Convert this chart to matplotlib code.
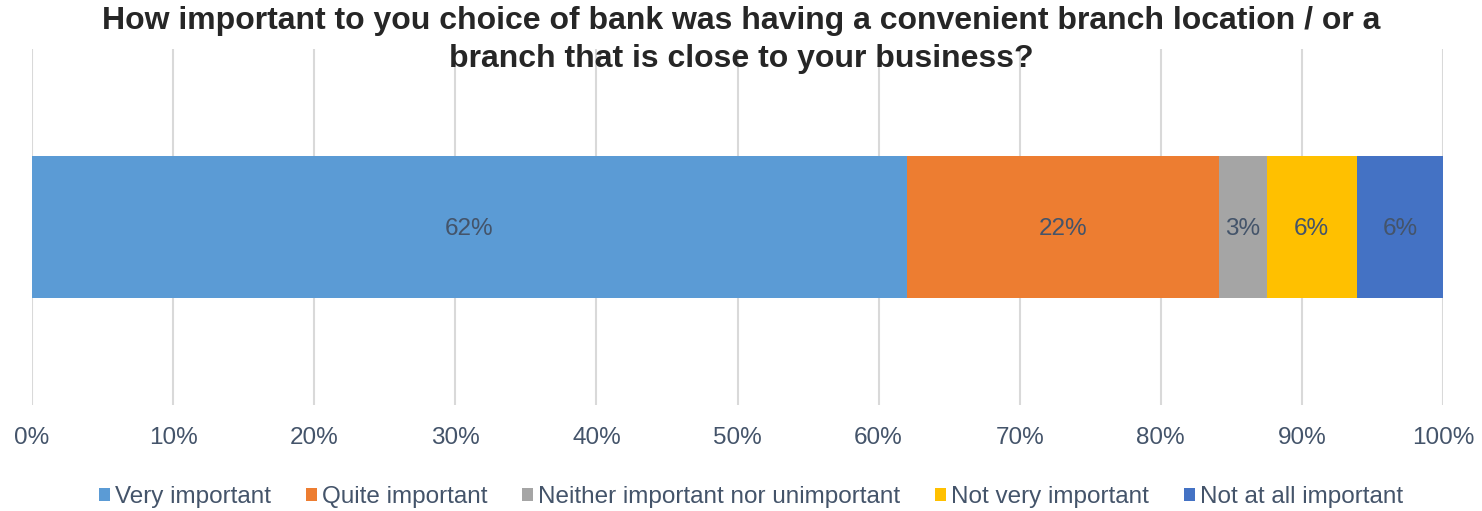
import matplotlib.pyplot as plt
from matplotlib.ticker import FuncFormatter

plt.rcParams['font.family'] = ['Liberation Sans', 'DejaVu Sans']

# response shares (%) for the single question
categories = ['Very important', 'Quite important', 'Neither important nor unimportant',
              'Not very important', 'Not at all important']
shares = [62.0, 22.1, 3.4, 6.4, 6.1]
colors = ['#5B9BD5', '#ED7D31', '#A5A5A5', '#FFC000', '#4472C4']
ticks = list(range(0, 101, 10))

text_col = '#44546A'

fig = plt.figure(figsize=(14.82, 5.11), dpi=100)
ax = fig.add_axes([32 / 1482, 1 - 405 / 511, (1443 - 32) / 1482, 356 / 511])

left = 0
for name, val, col in zip(categories, shares, colors):
    ax.barh(0, val, left=left, height=0.4, color=col, label=name, zorder=2)
    ax.text(left + val / 2, -0.005, f'{val:.0f}%', ha='center', va='center',
            fontsize=17.5, color=text_col, zorder=3)
    left += val

ax.set_xlim(0, 100)
ax.set_ylim(-0.5, 0.5)
ax.set_xticks(ticks)
ax.xaxis.set_major_formatter(FuncFormatter(lambda v, p: f'{v:.0f}%'))
ax.set_yticks([])
ax.tick_params(axis='x', length=0, pad=16, labelsize=17.5, labelcolor=text_col)
ax.grid(axis='x', color='#D9D9D9', linewidth=1.5, zorder=0)
for s in ax.spines.values():
    s.set_visible(False)

fig.text(0.5, 1 - 40 / 511,
         'How important to you choice of bank was having a convenient branch location / or a\n'
         'branch that is close to your business?',
         ha='center', va='center', fontsize=23, fontweight='bold', color='#262626',
         linespacing=1.32)

fig.legend(loc='center', bbox_to_anchor=(751 / 1482, 1 - 497 / 511), ncol=5, frameon=False,
           fontsize=17.5, labelcolor=text_col, handlelength=0.45, handleheight=0.45,
           handletextpad=0.2, columnspacing=1.45)

fig.savefig('out.png', dpi=100, facecolor='white')
